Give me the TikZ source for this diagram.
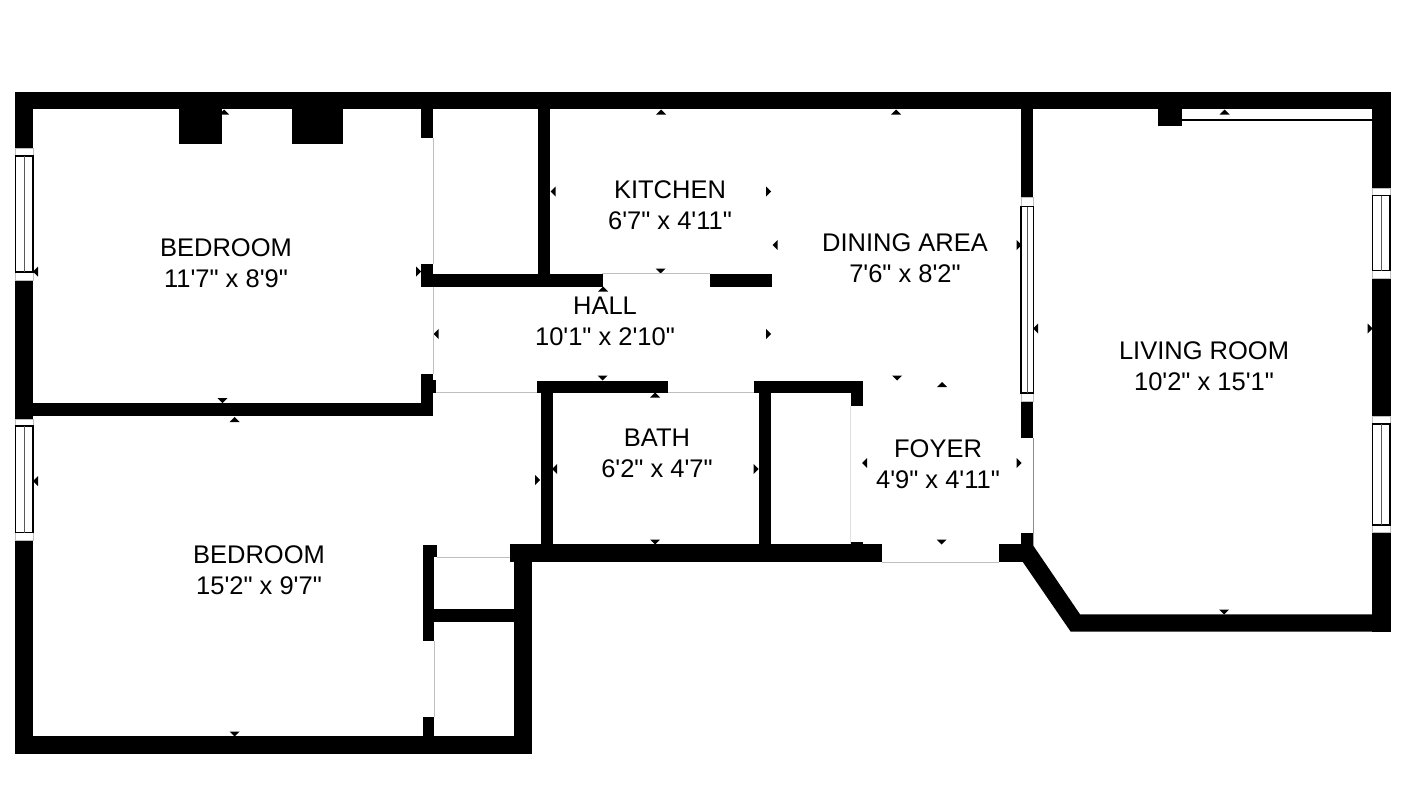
\documentclass[tikz,border=0pt]{standalone}
\usepackage{fontspec}
\newfontfamily\planfont{Liberation Sans}
\tikzset{
  wall/.style={fill=black},
  opening/.style={draw=black!25, line width=1pt},
  pane/.style={draw=black, line width=1.3pt},
  midpane/.style={draw=black!65, line width=1.3pt},
  roomlabel/.style={font=\planfont\fontsize{25.5}{31}\selectfont, align=center, inner sep=0pt},
  dimmark/.style={fill=black}
}
\begin{document}
\begin{tikzpicture}[x=1pt, y=-1pt]
  \useasboundingbox (0,0) rectangle (1408,800);
  \fill[white] (0,0) rectangle (1408,800);

  % Marcas de medida
  \foreach \mx/\my/\mrot in {
      224/112/0, 661/112/0, 896/112/0, 1224.5/112/0, 603/289/0, 655/395/0, 234.6/419.5/0, 942/384.5/0,
      222.5/400.5/180, 660.5/271/180, 602.5/378/180, 897/378/180, 655/542/180, 941.5/542/180, 234.6/734/180, 1224/612/180,
      35.5/271.5/90, 553/191.5/90, 436/334/90, 775/245/90, 1035.5/328.5/90, 554.5/469/90, 864.5/463/90, 35.5/481/90,
      418.5/271.5/-90, 768.5/191.5/-90, 768.5/334/-90, 1019/245/-90, 1370/328.5/-90, 756/469/-90, 537.5/480/-90, 1019/463/-90}
    \fill[dimmark, shift={(\mx,\my)}, rotate=\mrot] (-5,2.5) -- (0,-2.5) -- (5,2.5) -- cycle;

  % Aberturas
  \draw[opening] (433.5,138) -- (433.5,264);
  \draw[opening] (433.5,286) -- (433.5,374);
  \draw[opening] (436,392.7) -- (537,392.7);
  \draw[opening] (602,273.5) -- (710,273.5);
  \draw[opening] (668,392.7) -- (754,392.7);
  \draw[opening, draw=black!12] (850.5,406) -- (850.5,544);
  \draw[opening] (882,562.3) -- (999,562.3);
  \draw[opening] (437,557) -- (510,557);
  \draw[opening] (434.6,641) -- (434.6,717);
  \draw[opening, draw=black!45] (1033.3,438) -- (1033.3,533);

  % Paredes externas
  \fill[wall] (15,92) rectangle (1390.5,109);
  \fill[wall] (15,92) rectangle (33,148);
  \fill[wall] (15,280) rectangle (33,419.5);
  \fill[wall] (15,540) rectangle (33,754);
  \fill[wall] (15,736) rectangle (531.5,754);
  \fill[wall] (514,544.3) rectangle (531.5,754);
  \fill[wall] (510,544.3) rectangle (882,562.3);
  \fill[wall] (999,544.3) rectangle (1025,562.3);
  \fill[wall] (1372.3,92) rectangle (1390.5,188);
  \fill[wall] (1372.3,278.5) rectangle (1390.5,416);
  \fill[wall] (1372.3,532.7) rectangle (1390.5,631.7);
  \fill[wall] (1021,533) -- (1033.3,533) -- (1033.3,545.7) -- (1080,614.3) -- (1372.3,614.3)
    -- (1372.3,631.7) -- (1070.7,631.7) -- (1023,562.3) -- (1021,544.3) -- cycle;

  % Paredes internas
  \fill[wall] (179,109) rectangle (222,143.7);
  \fill[wall] (292,109) rectangle (343,143.7);
  \fill[wall] (421.4,109) rectangle (433,138);
  \fill[wall] (421.4,264) rectangle (433,286.5);
  \fill[wall] (421.4,274) rectangle (602.7,286.5);
  \fill[wall] (538,109) rectangle (550,274);
  \fill[wall] (710,274) rectangle (772,286.5);
  \fill[wall] (421.4,373.5) rectangle (433,415.7);
  \fill[wall] (433,380) rectangle (436,393);
  \fill[wall] (33,403.3) rectangle (433,415.7);
  \fill[wall] (536.7,380.7) rectangle (668,392.7);
  \fill[wall] (754,380.7) rectangle (863,392.7);
  \fill[wall] (850.5,380.7) rectangle (863,406);
  \fill[wall] (541,392) rectangle (552.7,545);
  \fill[wall] (758.6,392) rectangle (770.6,545);
  \fill[wall] (851,542) rectangle (863,545);
  \fill[wall] (422.5,544.7) rectangle (437,556.7);
  \fill[wall] (422.5,544.7) rectangle (434,640.7);
  \fill[wall] (434,609) rectangle (514,621.7);
  \fill[wall] (422.5,716.7) rectangle (434,737);
  \fill[wall] (1021,109) rectangle (1033.3,197);
  \fill[wall] (1021,401.7) rectangle (1033.3,438);
  \fill[wall] (1158,109) rectangle (1182,126);
  \draw[pane] (1182,120) -- (1372.3,120);

  % Janelas
  \foreach \wxa/\wxb/\wya/\wyb/\wyc/\wyd in {
      15.7/33/148/156/272/280, 15.7/33/419.5/426/532.7/540,
      1021/1033.3/197/206.7/393/401.7,
      1372.3/1390/188/195.7/270.7/278.5, 1372.3/1390/416/424/525/532.7} {
    \draw[opening, fill=white] (\wxa,\wya) rectangle (\wxb,\wyd);
    \draw[pane] (\wxa,\wyb) rectangle (\wxb,\wyc);
    \draw[midpane] ({(\wxa+\wxb)/2},\wyb) -- ({(\wxa+\wxb)/2},\wyc);
  }

  % Ambientes
  \node[roomlabel] (bedroomA) at (226,263) {BEDROOM\\11'7" x 8'9"};
  \node[roomlabel] (kitchen) at (670,205) {KITCHEN\\6'7" x 4'11"};
  \node[roomlabel] (hall) at (605,321) {HALL\\10'1" x 2'10"};
  \node[roomlabel] (dining) at (905,258) {DINING AREA\\7'6" x 8'2"};
  \node[roomlabel] (living) at (1204,366.5) {LIVING ROOM\\10'2" x 15'1"};
  \node[roomlabel] (bath) at (657,453) {BATH\\6'2" x 4'7"};
  \node[roomlabel] (foyer) at (938,464) {FOYER\\4'9" x 4'11"};
  \node[roomlabel] (bedroomB) at (259,570) {BEDROOM\\15'2" x 9'7"};
\end{tikzpicture}
\end{document}
